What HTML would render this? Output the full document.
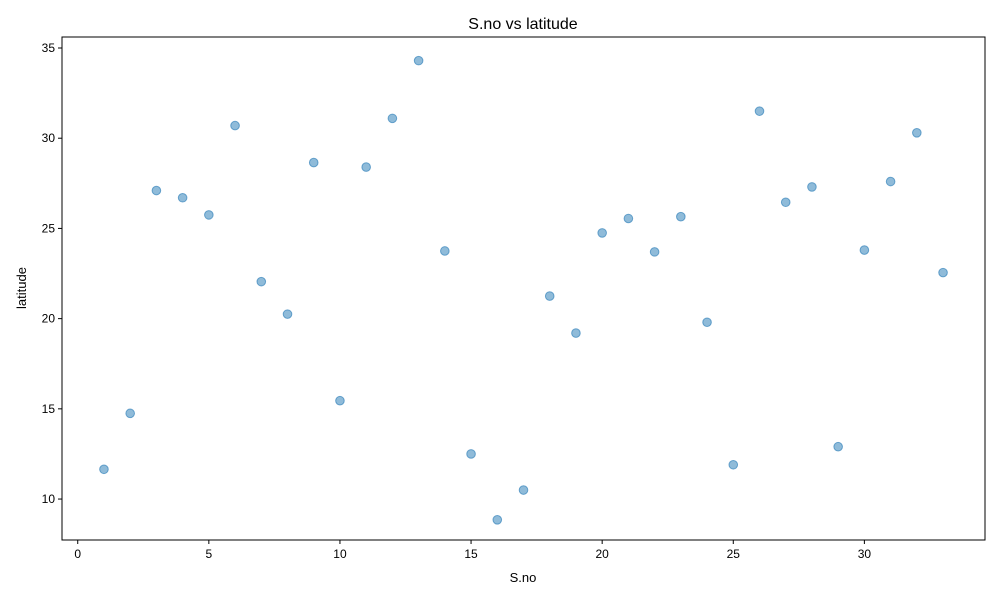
<!DOCTYPE html>
<html><head><meta charset="utf-8"><style>
body{margin:0;background:#fff;font-family:"Liberation Sans","DejaVu Sans",sans-serif;}
</style></head><body>
<svg id="chart" width="1000" height="600" xmlns="http://www.w3.org/2000/svg">
<rect width="1000" height="600" fill="#fff"/>
<text x="523" y="29" font-size="16" text-anchor="middle">S.no vs latitude</text>
<text x="523" y="582" font-size="13" text-anchor="middle">S.no</text>
<text x="26" y="288" font-size="13" text-anchor="middle" transform="rotate(-90 26 288)">latitude</text>
<g id="ticks"></g>
<g id="points"></g>
<rect x="62" y="37" width="923" height="503" fill="none" stroke="#000" stroke-width="1"/>
</svg>
<script>
const sno = [1,2,3,4,5,6,7,8,9,10,11,12,13,14,15,16,17,18,19,20,21,22,23,24,25,26,27,28,29,30,31,32,33];
const latitude = [11.65,14.75,27.1,26.7,25.75,30.7,22.05,20.25,28.65,15.45,28.4,31.1,34.3,23.75,12.5,8.85,10.5,21.25,19.2,24.75,25.55,23.7,25.65,19.8,11.9,31.5,26.45,27.3,12.9,23.8,27.6,30.3,22.55];
const xTicks = [0,5,10,15,20,25,30];
const yTicks = [10,15,20,25,30,35];
const L=62,R=985,T=37,B=540;
const xmin=-0.6,xmax=34.6,ymin=7.73,ymax=35.61;
const sx=v=>L+(v-xmin)/(xmax-xmin)*(R-L);
const sy=v=>B-(v-ymin)/(ymax-ymin)*(B-T);
const NS="http://www.w3.org/2000/svg";
const tg=document.getElementById('ticks');
function mk(tag,attrs,parent){const e=document.createElementNS(NS,tag);for(const k in attrs)e.setAttribute(k,attrs[k]);parent.appendChild(e);return e;}
xTicks.forEach(t=>{
  const x=sx(t);
  const l=mk('line',{x1:x,x2:x,y1:B,y2:B+4,stroke:'#000'},tg);
  
  
  const tx=mk('text',{x:x,y:B+18,'font-size':12,'text-anchor':'middle'},tg);
  tx.textContent=t;
  
  
});
yTicks.forEach(t=>{
  const y=sy(t);
  const l=mk('line',{x1:L-4,x2:L,y1:y,y2:y,stroke:'#000'},tg);
  
  
  const tx=mk('text',{x:L-7,y:y+4,'font-size':12,'text-anchor':'end'},tg);
  tx.textContent=t;
  
  
});
const pg=document.getElementById('points');
sno.forEach((s,i)=>{
  const c=mk('circle',{cx:sx(s),cy:sy(latitude[i]),r:4.3,fill:'rgba(31,119,180,0.5)',stroke:'rgba(31,119,180,0.6)','stroke-width':1},pg);
  
  
});
</script>
</body></html>
